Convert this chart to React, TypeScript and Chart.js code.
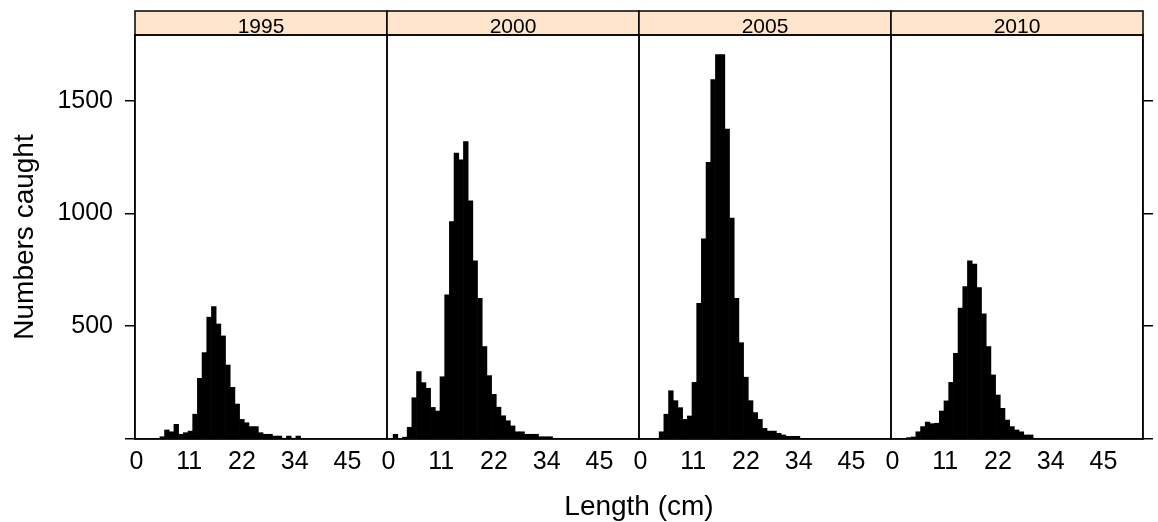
import React, { useEffect, useRef } from 'react';
import { Chart, registerables } from 'chart.js';

Chart.register(...registerables);

// ---- data ----
const panelYears = ['1995', '2000', '2005', '2010'];

// lower bound of each 1-cm length bin
const lengthBins = [
  0, 1, 2, 3, 4, 5, 6, 7, 8, 9, 10, 11, 12, 13, 14, 15, 16, 17, 18, 19, 20,
  21, 22, 23, 24, 25, 26, 27, 28, 29, 30, 31, 32, 33, 34, 35, 36, 37, 38, 39, 40,
];

const count1995 = [
  0, 0, 0, 0, 0, 10, 40, 32, 65, 21, 28, 35, 110, 269, 383, 540, 587, 510, 457, 328, 229,
  155, 87, 72, 55, 55, 28, 21, 21, 13, 13, 3, 13, 3, 13, 0, 0, 0, 0, 0, 0,
];
const count2000 = [
  0, 21, 0, 8, 52, 183, 299, 250, 225, 140, 124, 276, 639, 964, 1268, 1238, 1319, 1056, 790, 624, 410,
  281, 198, 141, 103, 81, 58, 32, 32, 21, 21, 21, 10, 10, 10, 0, 0, 0, 0, 0, 0,
];
const count2005 = [
  0, 0, 0, 0, 32, 110, 214, 170, 139, 87, 102, 251, 602, 887, 1226, 1593, 1704, 1704, 1374, 979, 624,
  427, 274, 170, 117, 87, 47, 35, 35, 25, 18, 12, 12, 12, 0, 0, 0, 0, 0, 0, 0,
];
const count2010 = [
  0, 0, 0, 6, 9, 32, 55, 75, 68, 70, 124, 169, 251, 380, 580, 676, 790, 776, 671, 555, 410,
  284, 195, 136, 84, 55, 40, 32, 18, 18, 0, 0, 0, 0, 0, 0, 0, 0, 0, 0, 0,
];
const panelCounts = [count1995, count2000, count2005, count2010];

const yTickValues = [0, 500, 1000, 1500];
const yTickLabels = ['', '500', '1000', '1500'];
const xTickValues = [0, 11.25, 22.5, 33.75, 45];
const xTickLabels = ['0', '11', '22', '34', '45'];

// ---- styles ----
const FONT = "'Liberation Sans', Arial, Helvetica, sans-serif";
const STRIP_FILL = '#FFE5CC';
const LINE = '#000000';
const LINE_W = 1.5;
const STRIP_H = 24;
const BIN_W = 1;

const panelsPlugin = {
  id: 'panelsPlugin',
  afterDraw(chart: any) {
    const { ctx, chartArea } = chart;
    ctx.save();
    panelYears.forEach((yr, i) => {
      const sc = chart.scales['x' + i];
      const left = sc.left;
      const w = sc.right - sc.left;
      ctx.fillStyle = STRIP_FILL;
      ctx.fillRect(left, chartArea.top - STRIP_H, w, STRIP_H);
      ctx.strokeStyle = LINE;
      ctx.lineWidth = LINE_W;
      ctx.strokeRect(left, chartArea.top - STRIP_H, w, STRIP_H);
      ctx.strokeRect(left, chartArea.top, w, chartArea.bottom - chartArea.top);
      ctx.fillStyle = '#000';
      ctx.font = `21px ${FONT}`;
      ctx.textAlign = 'center';
      ctx.textBaseline = 'alphabetic';
      ctx.fillText(yr, left + w / 2, chartArea.top - 2);
    });
    ctx.restore();
  },
};

export default function App() {
  const ref = useRef<HTMLCanvasElement | null>(null);

  useEffect(() => {
    if (!ref.current) return;

    const xScales: Record<string, any> = {};
    panelYears.forEach((_, i) => {
      xScales['x' + i] = {
        type: 'linear',
        position: 'bottom',
        stack: 'panels',
        stackWeight: 1,
        min: -0.3,
        max: 53.43,
        offset: false,
        afterBuildTicks: (s: any) => {
          s.ticks = xTickValues.map((v) => ({ value: v }));
        },
        afterFit: (s: any) => {
          s.height = 48;
        },
        grid: { display: false, drawTicks: false },
        border: { display: true, color: LINE, width: LINE_W },
        ticks: {
          autoSkip: false,
          maxRotation: 0,
          padding: 8,
          color: '#000',
          font: { family: FONT, size: 25 },
          callback: (_v: any, idx: number) => xTickLabels[idx],
        },
      };
    });

    const datasets = panelYears.map((yr, i) => ({
      label: yr,
      xAxisID: 'x' + i,
      yAxisID: 'y',
      data: lengthBins.map((b, j) => ({ x: b + BIN_W / 2, y: panelCounts[i][j] })),
      backgroundColor: '#000',
      borderWidth: 0,
      grouped: false,
      barPercentage: 1,
      categoryPercentage: 1,
    }));

    const chart = new Chart(ref.current, {
      type: 'bar',
      data: { datasets },
      options: {
        responsive: false,
        animation: false,
        layout: { padding: { top: 35, left: 0, right: 0, bottom: 0 } },
        plugins: {
          legend: { display: false },
          tooltip: { enabled: false },
          title: {
            display: true,
            position: 'bottom',
            fullSize: false,
            text: 'Length (cm)',
            color: '#000',
            font: { family: FONT, size: 28, weight: 'normal', lineHeight: 1 },
            padding: { top: 6, bottom: 1 },
          },
        },
        scales: {
          ...xScales,
          y: {
            type: 'linear',
            position: 'left',
            min: 0,
            max: 1791,
            afterBuildTicks: (s: any) => {
              s.ticks = yTickValues.map((v) => ({ value: v }));
            },
            afterFit: (s: any) => {
              s.width = 135;
            },
            grid: { drawOnChartArea: false, drawTicks: true, tickLength: 10, color: LINE, lineWidth: LINE_W },
            border: { display: true, color: LINE, width: LINE_W },
            ticks: {
              padding: 12,
              color: '#000',
              font: { family: FONT, size: 25 },
              callback: (_v: any, idx: number) => yTickLabels[idx],
            },
            title: {
              display: true,
              text: 'Numbers caught',
              color: '#000',
              font: { family: FONT, size: 28, lineHeight: 1.2 },
              padding: { top: 8.5, bottom: 0 },
            },
          },
          y2: {
            type: 'linear',
            position: 'right',
            min: 0,
            max: 1791,
            afterBuildTicks: (s: any) => {
              s.ticks = yTickValues.map((v) => ({ value: v }));
            },
            afterFit: (s: any) => {
              s.width = 15;
            },
            grid: { drawOnChartArea: false, drawTicks: true, tickLength: 10, color: LINE, lineWidth: LINE_W },
            border: { display: true, color: LINE, width: LINE_W },
            ticks: { padding: 0, callback: () => '' },
          },
        },
      } as any,
      plugins: [panelsPlugin],
    });

    return () => chart.destroy();
  }, []);

  return (
    <div style={{ position: 'fixed', left: 0, top: 0, width: 1158, height: 522, background: '#fff' }}>
      <canvas ref={ref} width={1158} height={522} />
    </div>
  );
}
